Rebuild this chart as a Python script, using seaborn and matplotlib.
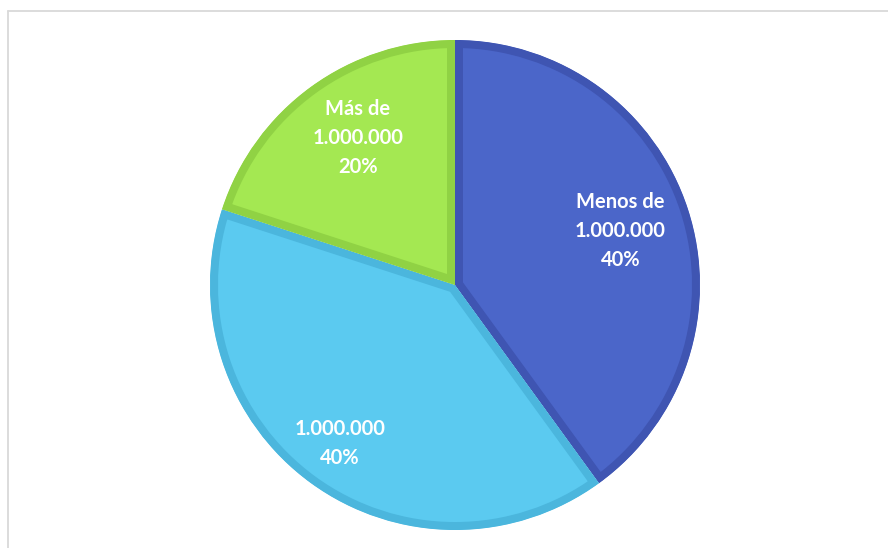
import matplotlib
matplotlib.use("Agg")
import matplotlib.pyplot as plt
import seaborn as sns
import numpy as np
from matplotlib.lines import Line2D

sns.set_theme(style="white")
plt.rcParams['font.family'] = ['Lato', 'DejaVu Sans']

categories = ["Menos de\n1.000.000", "1.000.000", "Más de\n1.000.000"]
values = [40, 40, 20]
fill_colors = ["#4b66c9", "#5bcaf0", "#a4e852"]
edge_colors = ["#3f55b2", "#4bb6dd", "#90d244"]
label_dist = [0.71, 0.80, 0.72]
label_turn = [0, 0, -2.5]

fig = plt.figure(figsize=(8.88, 5.48), dpi=100)
W, H = 888, 548
cx, cy, r = 455, 285, 245
ax = fig.add_axes([(cx - r) / W, (H - cy - r) / H, 2 * r / W, 2 * r / H])

wedges, _ = ax.pie(values, colors=fill_colors, startangle=90, counterclock=False,
                   radius=1, wedgeprops=dict(linewidth=0))
ax.set_xlim(-1, 1)
ax.set_ylim(-1, 1)
ax.set_aspect("equal")
ax.axis("off")

for w, ec in zip(wedges, edge_colors):
    w.set_edgecolor(ec)
    w.set_linewidth(11.5)
    w.set_clip_on(True)
    w.set_clip_path(w.get_path(), w.get_transform())

total = sum(values)
for w, cat, v, d, t in zip(wedges, categories, values, label_dist, label_turn):
    ang = np.deg2rad((w.theta1 + w.theta2) / 2 + t)
    ax.text(d * np.cos(ang), d * np.sin(ang), f"{cat}\n{v / total * 100:.0f}%",
            ha="center", va="center", color="white", fontsize=14.5, fontweight="bold",
            linespacing=1.56)

# chart frame (top and left edges visible)
fig.add_artist(Line2D([7.5 / W, 1.0], [1 - 10.5 / H, 1 - 10.5 / H], color="#d9d9d9", lw=1.3, transform=fig.transFigure))
fig.add_artist(Line2D([7.5 / W, 7.5 / W], [0, 1 - 10.5 / H], color="#d9d9d9", lw=1.3, transform=fig.transFigure))

fig.savefig("out.png", dpi=100, facecolor="white")
